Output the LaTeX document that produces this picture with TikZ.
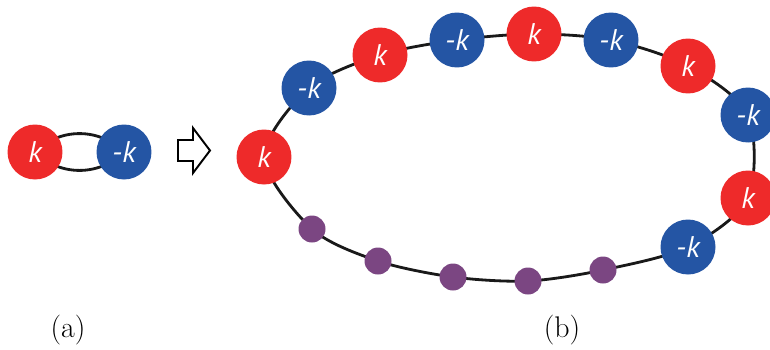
\documentclass[tikz,border=0pt]{standalone}
\usepackage{fontspec}
\newfontfamily\labelfont{PT Sans}
\usetikzlibrary{backgrounds}
\definecolor{kred}{RGB}{238,42,42}
\definecolor{kblue}{RGB}{36,85,164}
\definecolor{kpurple}{RGB}{123,70,130}
\tikzset{
  ball/.style={circle, inner sep=0pt, minimum size=1.1cm, text=white,
    font=\labelfont\itshape\fontsize{17}{19}\selectfont},
  dot/.style={circle, inner sep=0pt, minimum size=0.54cm, fill=kpurple},
  chain/.style={line width=1.6pt, black!90},
  sublabel/.style={font=\fontsize{17}{20}\selectfont}
}
\begin{document}
\begin{tikzpicture}[x=0.02cm, y=-0.02cm]
  \useasboundingbox (0,0) rectangle (770,349);
  % (a) the pair
  \node[ball, fill=kred] (ka) at (35,152) {k};
  \node[ball, fill=kblue] (kb) at (124,152) {-k};
  \begin{pgfonlayer}{background}
    \draw[chain] (ka.center) to[bend left=45] (kb.center) to[bend left=45] (ka.center);
  \end{pgfonlayer}
  % hollow arrow
  \draw[line width=1.1pt] (178,140) -- (193,140) -- (193,128) -- (210,150.5) -- (193,173) -- (193,161) -- (178,161) -- cycle;
  % (b) the ring
  \foreach \x/\y/\c/\t [count=\i] in {264/157/kred/k, 309/88/kblue/-k, 380/55/kred/k, 457/40/kblue/-k, 534/34/kred/k,
      611/40/kblue/-k, 688/66/kred/k, 748/115/kblue/-k, 748/198/kred/k, 688/247/kblue/-k} {
    \node[ball, fill=\c] (b\i) at (\x,\y) {\t};
  }
  \foreach \x/\y [count=\i] in {603/270, 528/281, 453/277, 378/261, 312/229} {
    \node[dot] (p\i) at (\x,\y) {};
  }
  \begin{pgfonlayer}{background}
    \draw[chain] plot[smooth cycle] coordinates {(b1.center) (b2.center) (b3.center) (b4.center) (b5.center)
      (b6.center) (b7.center) (b8.center) (b9.center) (b10.center)
      (p1.center) (p2.center) (p3.center) (p4.center) (p5.center)};
  \end{pgfonlayer}
  \node[sublabel] (lbla) at (68,330) {(a)};
  \node[sublabel] (lblb) at (562,330) {(b)};
\end{tikzpicture}
\end{document}
